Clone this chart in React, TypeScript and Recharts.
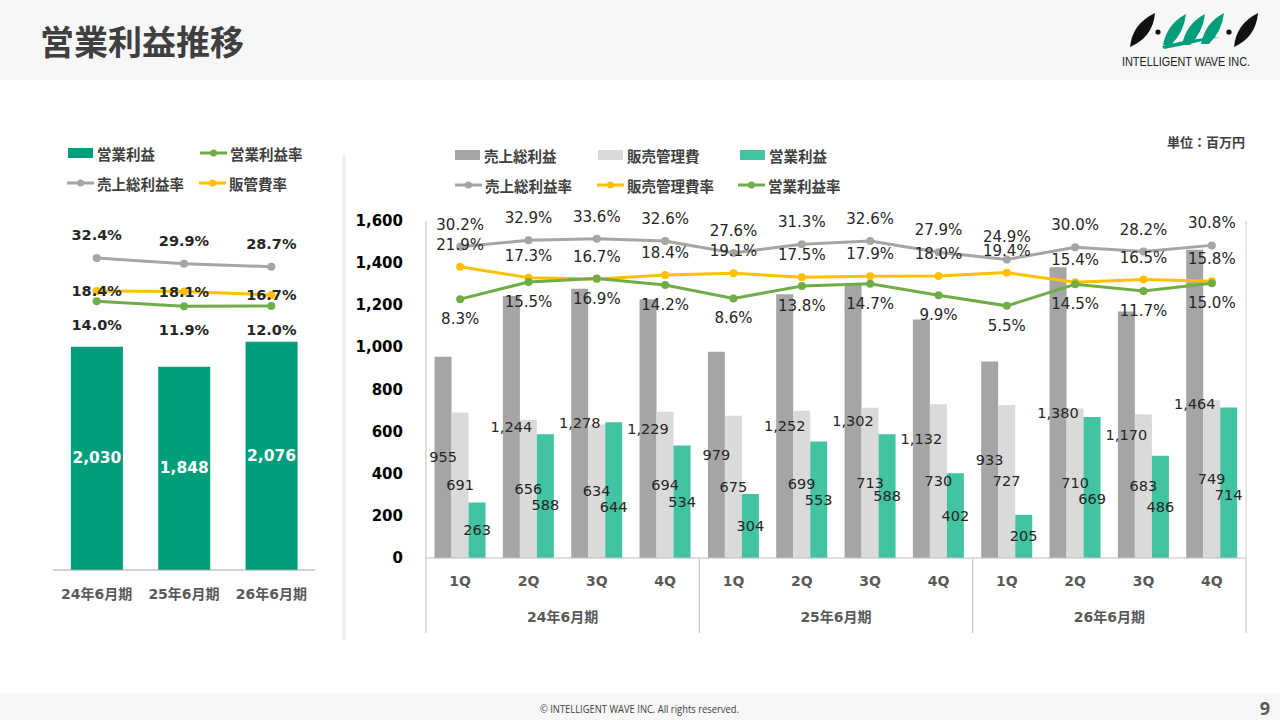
import React from 'react';
import { ComposedChart, Bar, Line, XAxis, YAxis, LabelList } from 'recharts';

// ---------- data ----------
const quarters = ['1Q', '2Q', '3Q', '4Q', '1Q', '2Q', '3Q', '4Q', '1Q', '2Q', '3Q', '4Q'];
const fiscalYears = ['24年6月期', '25年6月期', '26年6月期'];
const grossProfit = [955, 1244, 1278, 1229, 979, 1252, 1302, 1132, 933, 1380, 1170, 1464];
const sgaExpense = [691, 656, 634, 694, 675, 699, 713, 730, 727, 710, 683, 749];
const operatingProfit = [263, 588, 644, 534, 304, 553, 588, 402, 205, 669, 486, 714];
const grossMargin = [30.2, 32.9, 33.6, 32.6, 27.6, 31.3, 32.6, 27.9, 24.9, 30.0, 28.2, 30.8];
const sgaRatio = [21.9, 17.3, 16.7, 18.4, 19.1, 17.5, 17.9, 18.0, 19.4, 15.4, 16.5, 15.8];
const operatingMargin = [8.3, 15.5, 16.9, 14.2, 8.6, 13.8, 14.7, 9.9, 5.5, 14.5, 11.7, 15.0];
const yTicks = [0, 200, 400, 600, 800, 1000, 1200, 1400, 1600];

const annualOperatingProfit = [2030, 1848, 2076];
const annualOperatingMargin = [14.0, 11.9, 12.0];
const annualGrossMargin = [32.4, 29.9, 28.7];
const annualSgaRatio = [18.4, 18.1, 16.7];

// ---------- styles ----------
const C_GRAY = '#a5a5a5';
const C_LIGHT = '#dadada';
const C_TEAL = '#42c3a2';
const C_DEEP = '#009e7b';
const C_ORANGE = '#ffc000';
const C_GREEN = '#70ad47';
const C_AXIS = '#bfbfbf';
const NUM_FONT = '"DejaVu Sans", "Noto Sans CJK JP", sans-serif';
const JP_FONT = '"Noto Sans CJK JP", "DejaVu Sans", sans-serif';

const quarterData = quarters.map((q, i) => ({
  q,
  fy: fiscalYears[Math.floor(i / 4)],
  gp: grossProfit[i],
  sga: sgaExpense[i],
  op: operatingProfit[i],
  gm: grossMargin[i],
  sr: sgaRatio[i],
  om: operatingMargin[i],
}));

const annualData = fiscalYears.map((fy, i) => ({
  fy,
  op: annualOperatingProfit[i],
  om: annualOperatingMargin[i],
  gm: annualGrossMargin[i],
  sr: annualSgaRatio[i],
}));

const fmtNum = (v: number) => Number(v).toLocaleString('en-US');
const fmtPct = (v: number) => Number(v).toFixed(1) + '%';

// right chart geometry (chart-local)
const R_W = 920;
const R_H = 510;
const R_M = { top: 81, right: 13, bottom: 12, left: 16 };
const R_YAXIS_W = 70;
const R_PLOT_W = R_W - R_M.left - R_M.right - R_YAXIS_W - 1;
const R_PLOT_BOTTOM = 418;
const R_BAND = R_PLOT_W / quarters.length;

// left chart geometry
const L_W = 340;
const L_H = 500;
const L_M = { top: 100, right: 25, bottom: 29, left: 53 };

const labelText = (x: number, y: number, txt: string, color: string, size: number, weight: string | number) => (
  <text
    x={x}
    y={y}
    textAnchor="middle"
    dominantBaseline="central"
    fill={color}
    fontSize={size}
    fontWeight={weight}
    fontFamily={NUM_FONT}
  >
    {txt}
  </text>
);

const barLabel = (color: string, size: number, weight: string | number) => (props: any) => {
  const { x, y, width, height, value } = props;
  return labelText(Number(x) + Number(width) / 2, Number(y) + Number(height) / 2, fmtNum(value), color, size, weight);
};

// operating-profit label: centred in its bar, nudged down when it would sit on the SG&A label next to it
const opLabel = (props: any) => {
  const { x, y, width, height, value, index } = props;
  const bottom = Number(y) + Number(height);
  const perUnit = Number(height) / Number(value);
  const own = bottom - Number(height) / 2;
  const neighbour = bottom - (perUnit * sgaExpense[index]) / 2;
  const cy = Math.abs(own - neighbour) < 10 ? Math.max(own, neighbour + 16) : own;
  return labelText(Number(x) + Number(width) / 2, cy, fmtNum(value), '#262626', 14.5, 'normal');
};

const lineLabel = (dy: number, size: number, weight: string | number) => (props: any) => {
  const { x, y, value } = props;
  return labelText(Number(x), Number(y) + dy, fmtPct(value), '#262626', size, weight);
};

const RightYTick = (props: any) => {
  const { y, payload } = props;
  return (
    <text
      x={R_M.left + R_YAXIS_W - 23}
      y={y}
      textAnchor="end"
      dominantBaseline="central"
      fill="#000"
      fontSize={15}
      fontWeight="bold"
      fontFamily={NUM_FONT}
    >
      {fmtNum(payload.value)}
    </text>
  );
};

const QuarterTick = (props: any) => {
  const { x, payload, index } = props;
  const cx = payload && payload.coordinate != null ? payload.coordinate : x;
  const half = R_BAND / 2;
  const last = quarters.length - 1;
  return (
    <g>
      <text
        x={cx}
        y={R_PLOT_BOTTOM + 23}
        textAnchor="middle"
        dominantBaseline="central"
        fill="#595959"
        fontSize={14}
        fontWeight="bold"
        fontFamily={NUM_FONT}
      >
        {payload.value}
      </text>
      {index % 4 === 0 && (
        <line x1={cx - half} x2={cx - half} y1={R_PLOT_BOTTOM} y2={R_PLOT_BOTTOM + 75} stroke={C_AXIS} strokeWidth={1} />
      )}
      {index === last && (
        <line x1={cx + half} x2={cx + half} y1={R_PLOT_BOTTOM} y2={R_PLOT_BOTTOM + 75} stroke={C_AXIS} strokeWidth={1} />
      )}
      {index % 4 === 1 && (
        <text
          x={cx + half}
          y={R_PLOT_BOTTOM + 59}
          textAnchor="middle"
          dominantBaseline="central"
          fill="#595959"
          fontSize={14}
          fontWeight="bold"
          fontFamily={NUM_FONT}
        >
          {fiscalYears[Math.floor(index / 4)]}
        </text>
      )}
    </g>
  );
};

const AnnualTick = (props: any) => {
  const { x, y, payload } = props;
  const cx = payload && payload.coordinate != null ? payload.coordinate : x;
  return (
    <text
      x={cx}
      y={Number(y) + 16}
      textAnchor="middle"
      dominantBaseline="central"
      fill="#595959"
      fontSize={14}
      fontWeight="bold"
      fontFamily={NUM_FONT}
    >
      {payload.value}
    </text>
  );
};

const RectIcon = ({ color }: { color: string }) => (
  <span style={{ display: 'inline-block', width: 25, height: 10, background: color, marginRight: 4 }} />
);
const LineIcon = ({ color }: { color: string }) => (
  <svg width={27} height={10} style={{ marginRight: 3, display: 'inline-block' }}>
    <line x1={0} x2={27} y1={5} y2={5} stroke={color} strokeWidth={3} />
    <circle cx={13.5} cy={5} r={3.5} fill={color} />
  </svg>
);

const LegendItem = ({ left, top, icon, label }: any) => (
  <div
    style={{
      position: 'absolute',
      left,
      top,
      height: 20,
      display: 'flex',
      alignItems: 'center',
      fontFamily: JP_FONT,
      fontWeight: 'bold',
      fontSize: 14.5,
      color: '#404040',
      whiteSpace: 'nowrap',
    }}
  >
    {icon}
    <span>{label}</span>
  </div>
);

const Logo = () => (
  <svg width={150} height={64} style={{ position: 'absolute', left: 1115, top: 6 }}>
    <g transform="translate(-1115,-6)">
      {/* black slashes */}
      <path d="M1130 47 Q1132 24 1155 13 Q1153 37 1130 47 Z" fill="#111" />
      <path d="M1234 47 Q1236 24 1258 13 Q1256 37 1234 47 Z" fill="#111" />
      <circle cx={1158} cy={32} r={2.6} fill="#111" />
      <circle cx={1229} cy={32} r={2.6} fill="#111" />
      {/* teal W */}
      <path d="M1163 45 Q1167 24 1186 14 Q1184 32 1171 45 Z" fill={C_DEEP} />
      <path d="M1182 45 Q1186 24 1205 14 Q1203 32 1190 45 Z" fill={C_DEEP} />
      <path d="M1201 44 Q1205 23 1224 13 Q1222 31 1209 44 Z" fill={C_DEEP} />
      <path d="M1162 46 Q1192 38 1219 37 Q1192 44 1164 49 Z" fill={C_DEEP} />
      <text
        x={1122}
        y={62}
        dominantBaseline="central"
        fontSize={12}
        fontFamily='"Liberation Sans Narrow", "Liberation Sans", sans-serif'
        fill="#222"
        textLength={128}
        lengthAdjust="spacingAndGlyphs"
      >
        INTELLIGENT WAVE INC.
      </text>
    </g>
  </svg>
);

export default function App() {
  return (
    <div
      style={{
        position: 'absolute',
        left: 0,
        top: 0,
        width: 1280,
        height: 720,
        background: '#fff',
        overflow: 'hidden',
        fontFamily: JP_FONT,
      }}
    >
      {/* header */}
      <div style={{ position: 'absolute', left: 0, top: 0, width: 1280, height: 80, background: '#f7f7f7' }} />
      <div
        style={{
          position: 'absolute',
          left: 40,
          top: 18,
          fontSize: 34,
          lineHeight: '46px',
          fontWeight: 'bold',
          color: '#3f3f3f',
          fontFamily: JP_FONT,
        }}
      >
        営業利益推移
      </div>
      <Logo />

      {/* footer */}
      <div style={{ position: 'absolute', left: 0, top: 693, width: 1280, height: 27, background: '#f7f7f7' }} />
      <svg width={1280} height={40} style={{ position: 'absolute', left: 0, top: 680 }}>
        <text
          x={540}
          y={29}
          dominantBaseline="central"
          fontSize={10.5}
          fontFamily='"Open Sans", sans-serif'
          fill="#404040"
          textLength={199}
          lengthAdjust="spacingAndGlyphs"
        >
          © INTELLIGENT WAVE INC. All rights reserved.
        </text>
        <text
          x={1270}
          y={28}
          textAnchor="end"
          dominantBaseline="central"
          fontSize={18}
          fontWeight="bold"
          fontFamily='"Open Sans", sans-serif'
          fill="#595959"
        >
          9
        </text>
      </svg>

      {/* divider */}
      <div style={{ position: 'absolute', left: 342, top: 155, width: 4, height: 485, background: '#f0f0f0' }} />

      {/* unit */}
      <div
        style={{
          position: 'absolute',
          left: 1167,
          top: 132,
          fontSize: 13,
          lineHeight: '20px',
          fontWeight: 'bold',
          color: '#404040',
          fontFamily: JP_FONT,
          whiteSpace: 'nowrap',
        }}
      >
        単位：百万円
      </div>

      {/* left legend */}
      <LegendItem left={68} top={143} icon={<RectIcon color={C_DEEP} />} label="営業利益" />
      <LegendItem left={200} top={143} icon={<LineIcon color={C_GREEN} />} label="営業利益率" />
      <LegendItem left={67} top={173} icon={<LineIcon color={C_GRAY} />} label="売上総利益率" />
      <LegendItem left={199} top={173} icon={<LineIcon color={C_ORANGE} />} label="販管費率" />

      {/* right legend */}
      <LegendItem left={455} top={145} icon={<RectIcon color={C_GRAY} />} label="売上総利益" />
      <LegendItem left={598} top={145} icon={<RectIcon color={C_LIGHT} />} label="販売管理費" />
      <LegendItem left={740} top={145} icon={<RectIcon color={C_TEAL} />} label="営業利益" />
      <LegendItem left={455} top={175} icon={<LineIcon color={C_GRAY} />} label="売上総利益率" />
      <LegendItem left={597} top={175} icon={<LineIcon color={C_ORANGE} />} label="販売管理費率" />
      <LegendItem left={738} top={175} icon={<LineIcon color={C_GREEN} />} label="営業利益率" />

      {/* left chart */}
      <div style={{ position: 'absolute', left: 0, top: 140, width: L_W, height: L_H }}>
        <ComposedChart width={L_W} height={L_H} data={annualData} margin={L_M} barCategoryGap="20.5%">
          <XAxis
            dataKey="fy"
            height={41}
            interval={0}
            tickLine={false}
            axisLine={{ stroke: '#a6a6a6' }}
            tick={<AnnualTick />}
          />
          <YAxis yAxisId="l" hide domain={[0, 3000]} />
          <YAxis yAxisId="r" hide orientation="right" domain={[-100, 40]} />
          <Bar yAxisId="l" dataKey="op" fill={C_DEEP} isAnimationActive={false}>
            <LabelList dataKey="op" content={barLabel('#ffffff', 15.5, 'bold')} />
          </Bar>
          <Line yAxisId="r" dataKey="gm" stroke={C_GRAY} strokeWidth={3} dot={{ r: 4, fill: C_GRAY, stroke: 'none' }} isAnimationActive={false}>
            <LabelList dataKey="gm" content={lineLabel(-23, 14.5, 'bold')} />
          </Line>
          <Line yAxisId="r" dataKey="sr" stroke={C_ORANGE} strokeWidth={3} dot={{ r: 4, fill: C_ORANGE, stroke: 'none' }} isAnimationActive={false}>
            <LabelList dataKey="sr" content={lineLabel(0, 14.5, 'bold')} />
          </Line>
          <Line yAxisId="r" dataKey="om" stroke={C_GREEN} strokeWidth={3} dot={{ r: 4, fill: C_GREEN, stroke: 'none' }} isAnimationActive={false}>
            <LabelList dataKey="om" content={lineLabel(24, 14.5, 'bold')} />
          </Line>
        </ComposedChart>
      </div>

      {/* right chart */}
      <div style={{ position: 'absolute', left: 340, top: 140, width: R_W, height: R_H }}>
        <ComposedChart width={R_W} height={R_H} data={quarterData} margin={R_M} barCategoryGap="12.5%" barGap={0}>
          <XAxis
            dataKey="q"
            height={80}
            interval={0}
            tickLine={false}
            axisLine={{ stroke: C_AXIS }}
            tick={<QuarterTick />}
          />
          <YAxis
            yAxisId="l"
            width={R_YAXIS_W}
            domain={[0, 1600]}
            ticks={yTicks}
            interval={0}
            tickLine={false}
            axisLine={{ stroke: C_AXIS }}
            tick={<RightYTick />}
          />
          <YAxis
            yAxisId="r"
            orientation="right"
            width={1}
            domain={[-100, 41]}
            tick={false}
            tickLine={false}
            axisLine={{ stroke: '#d0d0d0' }}
          />
          <Bar yAxisId="l" dataKey="gp" fill={C_GRAY} isAnimationActive={false}>
            <LabelList dataKey="gp" content={barLabel('#262626', 14.5, 'normal')} />
          </Bar>
          <Bar yAxisId="l" dataKey="sga" fill={C_LIGHT} isAnimationActive={false}>
            <LabelList dataKey="sga" content={barLabel('#262626', 14.5, 'normal')} />
          </Bar>
          <Bar yAxisId="l" dataKey="op" fill={C_TEAL} isAnimationActive={false}>
            <LabelList dataKey="op" content={opLabel} />
          </Bar>
          <Line yAxisId="r" dataKey="gm" stroke={C_GRAY} strokeWidth={3} dot={{ r: 4, fill: C_GRAY, stroke: 'none' }} isAnimationActive={false}>
            <LabelList dataKey="gm" content={lineLabel(-22, 15, 'normal')} />
          </Line>
          <Line yAxisId="r" dataKey="sr" stroke={C_ORANGE} strokeWidth={3} dot={{ r: 4, fill: C_ORANGE, stroke: 'none' }} isAnimationActive={false}>
            <LabelList dataKey="sr" content={lineLabel(-22, 15, 'normal')} />
          </Line>
          <Line yAxisId="r" dataKey="om" stroke={C_GREEN} strokeWidth={3} dot={{ r: 4, fill: C_GREEN, stroke: 'none' }} isAnimationActive={false}>
            <LabelList dataKey="om" content={lineLabel(20, 15, 'normal')} />
          </Line>
        </ComposedChart>
      </div>
    </div>
  );
}
